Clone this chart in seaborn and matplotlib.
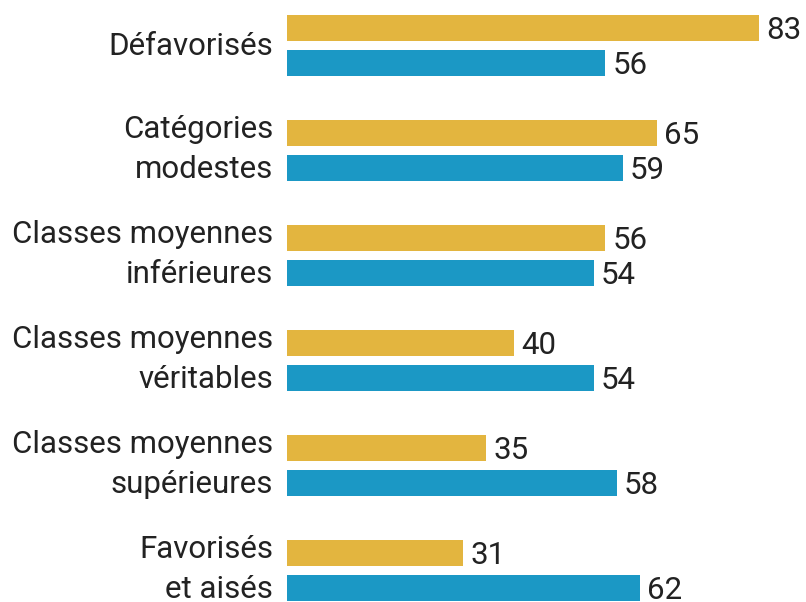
import pandas as pd
import matplotlib.pyplot as plt
import seaborn as sns

# Data
categories = [
    "Défavorisés",
    "Catégories\nmodestes",
    "Classes moyennes\ninférieures",
    "Classes moyennes\nvéritables",
    "Classes moyennes\nsupérieures",
    "Favorisés\net aisés",
]
series = ["jaune", "bleu"]
values_jaune = [83, 65, 56, 40, 35, 31]
values_bleu = [56, 59, 54, 54, 58, 62]

colors = ["#E3B53F", "#1B98C5"]
text_color = "#222222"

# Long table for seaborn
df = pd.DataFrame({
    "groupe": categories * 2,
    "serie": [series[0]] * len(categories) + [series[1]] * len(categories),
    "valeur": values_jaune + values_bleu,
})

sns.set_theme(style="white")
plt.rcParams["font.family"] = ["Roboto", "DejaVu Sans"]

fig = plt.figure(figsize=(8.06, 6.02), dpi=100)
ax = fig.add_axes([287 / 806, 0, 519 / 806, 1])

sns.barplot(data=df, y="groupe", x="valeur", hue="serie", orient="h",
            palette=colors, saturation=1, width=0.67, gap=0.27,
            linewidth=0, legend=False, ax=ax)

px_per_unit = 5.687
ax.set_xlim(0, 519 / px_per_unit)
ax.set_ylim(5.302, -0.431)
ax.set_axis_off()

fs = 22.5

# Category labels (right aligned, left of bars)
ytr = ax.get_yaxis_transform()
for i, label in enumerate(categories):
    lines = label.split("\n")
    if len(lines) == 1:
        offsets = [0.092]
    else:
        offsets = [-0.119, 0.262]
    for line, off in zip(lines, offsets):
        ax.text(-14 / 519, i + off, line, transform=ytr, ha="right",
                va="baseline", fontsize=fs, color=text_color)

# Value labels
for cont, vals in zip(ax.containers, [values_jaune, values_bleu]):
    for patch, v in zip(cont.patches, vals):
        yc = patch.get_y() + patch.get_height() / 2
        ax.text(v + 7 / px_per_unit, yc + 0.108, str(v), ha="left",
                va="baseline", fontsize=fs, color=text_color)

fig.savefig("out.png", dpi=100)
